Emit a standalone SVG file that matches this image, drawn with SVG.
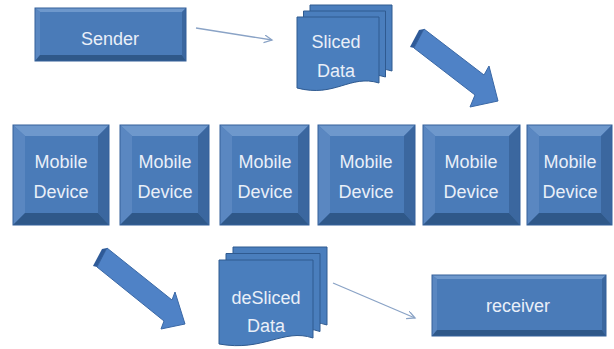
<svg xmlns="http://www.w3.org/2000/svg" width="614" height="349" viewBox="0 0 614 349">
<defs>
<style>
.face{fill:#4a7bb8}
.bt{fill:#6e98cc}
.bl{fill:#5a87c1}
.br{fill:#3b679f}
.bb{fill:#2f5889}
.out{fill:none;stroke:#34609a;stroke-width:1}
.txt{font-family:"Liberation Sans","DejaVu Sans",sans-serif;font-size:18px;fill:#e9eff8;text-anchor:middle}
.page{fill:#4a7ebd;stroke:#2f5a90;stroke-width:1}
.big{fill:#4f82c6;stroke:#3a68a6;stroke-width:1}
.side{fill:#2e5a98}
.thin{fill:none;stroke:#8aa3c6;stroke-width:1.3}
</style>
<marker id="ah" markerWidth="10" markerHeight="10" refX="8" refY="4" orient="auto" markerUnits="userSpaceOnUse">
<path d="M0,0 L8,4 L0,8" fill="none" stroke="#8aa3c6" stroke-width="1.3"/>
</marker>
</defs>

<g id="connectors">
<line class="thin" x1="196" y1="28" x2="272" y2="40" marker-end="url(#ah)"/>
<line class="thin" x1="333" y1="283" x2="415" y2="318" marker-end="url(#ah)"/>
<g id="arrow-top">
<polygon class="big" points="424,29 484,75 489,66 498,101 470,107 475,95 414,48"/>
<polygon class="side" points="424,29 419,30 410,47 414,48"/>
</g>
<g id="arrow-bottom">
<polygon class="big" points="107,248 172,300 175,292 185,324 161,329 164,321 97,267"/>
<polygon class="side" points="107,248 102,249 93,266 97,267"/>
</g>
</g>

<g id="sender">
<rect class="face" x="35" y="8" width="151" height="53"/>
<polygon class="bt" points="35,8 186,8 182,12 40,12"/>
<polygon class="bl" points="35,8 40,12 40,55 35,61"/>
<polygon class="br" points="186,8 186,61 182,55 182,12"/>
<polygon class="bb" points="35,61 186,61 182,55 40,55"/>
<rect class="out" x="35" y="8" width="151" height="53"/>
<text class="txt" x="110" y="45">Sender</text>
</g>

<g id="sliced-data">
<path class="page" d="M310,5 H392 V71 C363,62 348,86 310,76 Z"/>
<path class="page" d="M303.5,11 H385.5 V77 C356,68 341,92 303.5,82 Z"/>
<path class="page" d="M297,17 H379 V83 C350,74 335,98 297,88 Z"/>
<text class="txt" x="336" y="48">Sliced</text>
<text class="txt" x="336" y="77">Data</text>
</g>

<g id="device1">
<rect class="face" x="13" y="125" width="96" height="100"/>
<polygon class="bt" points="13,125 109,125 98,136 25,136"/>
<polygon class="bl" points="13,125 25,136 25,213 13,225"/>
<polygon class="br" points="109,125 109,225 98,213 98,136"/>
<polygon class="bb" points="13,225 109,225 98,213 25,213"/>
<rect class="out" x="13" y="125" width="96" height="100"/>
<text class="txt" x="61" y="168">Mobile</text>
<text class="txt" x="61" y="198">Device</text>
</g>
<g id="device2">
<rect class="face" x="120" y="125" width="89" height="100"/>
<polygon class="bt" points="120,125 209,125 198,136 132,136"/>
<polygon class="bl" points="120,125 132,136 132,213 120,225"/>
<polygon class="br" points="209,125 209,225 198,213 198,136"/>
<polygon class="bb" points="120,225 209,225 198,213 132,213"/>
<rect class="out" x="120" y="125" width="89" height="100"/>
<text class="txt" x="165" y="168">Mobile</text>
<text class="txt" x="165" y="198">Device</text>
</g>
<g id="device3">
<rect class="face" x="220" y="125" width="89" height="100"/>
<polygon class="bt" points="220,125 309,125 298,136 232,136"/>
<polygon class="bl" points="220,125 232,136 232,213 220,225"/>
<polygon class="br" points="309,125 309,225 298,213 298,136"/>
<polygon class="bb" points="220,225 309,225 298,213 232,213"/>
<rect class="out" x="220" y="125" width="89" height="100"/>
<text class="txt" x="265" y="168">Mobile</text>
<text class="txt" x="265" y="198">Device</text>
</g>
<g id="device4">
<rect class="face" x="318" y="125" width="97" height="100"/>
<polygon class="bt" points="318,125 415,125 404,136 330,136"/>
<polygon class="bl" points="318,125 330,136 330,213 318,225"/>
<polygon class="br" points="415,125 415,225 404,213 404,136"/>
<polygon class="bb" points="318,225 415,225 404,213 330,213"/>
<rect class="out" x="318" y="125" width="97" height="100"/>
<text class="txt" x="366" y="168">Mobile</text>
<text class="txt" x="366" y="198">Device</text>
</g>
<g id="device5">
<rect class="face" x="423" y="125" width="97" height="100"/>
<polygon class="bt" points="423,125 520,125 509,136 435,136"/>
<polygon class="bl" points="423,125 435,136 435,213 423,225"/>
<polygon class="br" points="520,125 520,225 509,213 509,136"/>
<polygon class="bb" points="423,225 520,225 509,213 435,213"/>
<rect class="out" x="423" y="125" width="97" height="100"/>
<text class="txt" x="471" y="168">Mobile</text>
<text class="txt" x="471" y="198">Device</text>
</g>
<g id="device6">
<rect class="face" x="527" y="125" width="85" height="100"/>
<polygon class="bt" points="527,125 612,125 601,136 539,136"/>
<polygon class="bl" points="527,125 539,136 539,213 527,225"/>
<polygon class="br" points="612,125 612,225 601,213 601,136"/>
<polygon class="bb" points="527,225 612,225 601,213 539,213"/>
<rect class="out" x="527" y="125" width="85" height="100"/>
<text class="txt" x="570" y="168">Mobile</text>
<text class="txt" x="570" y="198">Device</text>
</g>

<g id="desliced-data">
<path class="page" d="M233,247 H327 V325 C297,315 278,339 233,331 Z"/>
<path class="page" d="M226,253.5 H320 V331.5 C290,321.5 271,345.5 226,337.5 Z"/>
<path class="page" d="M219,260 H313 V338 C283,328 264,352 219,344 Z"/>
<text class="txt" x="266" y="304">deSliced</text>
<text class="txt" x="266" y="332">Data</text>
</g>

<g id="receiver">
<rect class="face" x="432" y="275" width="174" height="61"/>
<polygon class="bt" points="432,275 606,275 602,279 437,279"/>
<polygon class="bl" points="432,275 437,279 437,330 432,336"/>
<polygon class="br" points="606,275 606,336 602,330 602,279"/>
<polygon class="bb" points="432,336 606,336 602,330 437,330"/>
<rect class="out" x="432" y="275" width="174" height="61"/>
<text class="txt" x="518" y="312">receiver</text>
</g>
</svg>
